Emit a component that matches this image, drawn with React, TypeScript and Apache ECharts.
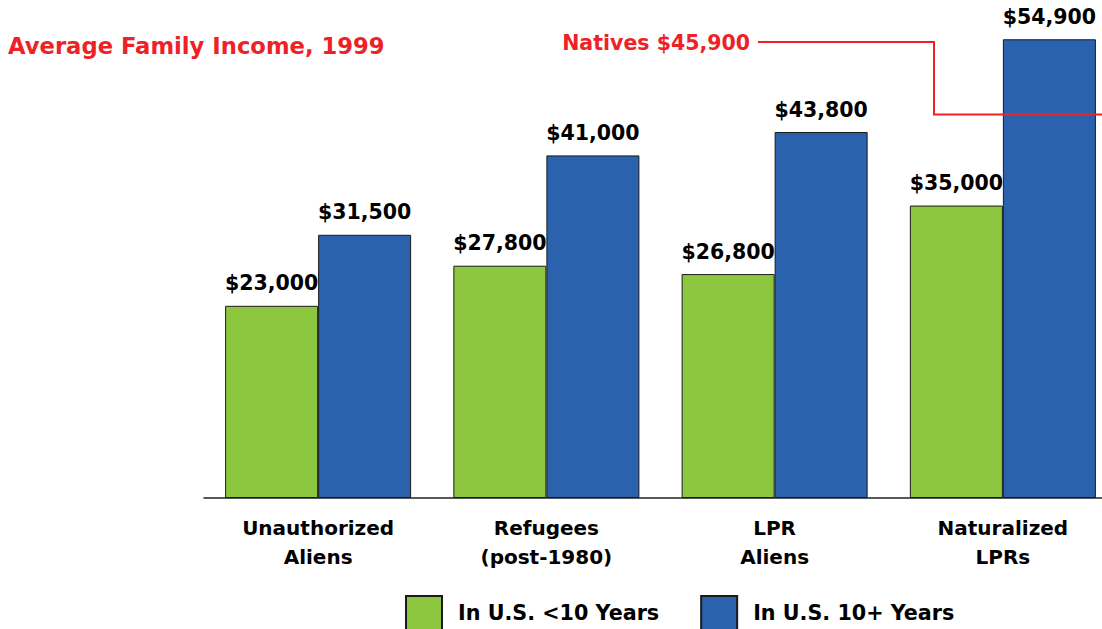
import React, { useEffect, useRef } from "react";
import * as echarts from "echarts";

const categories = ["Unauthorized\nAliens", "Refugees\n(post-1980)", "LPR\nAliens", "Naturalized\nLPRs"];
const under10 = [23000, 27800, 26800, 35000];
const over10 = [31500, 41000, 43800, 54900];
const seriesNames = ["In U.S. <10 Years", "In U.S. 10+ Years"];
const nativesValue = 45900;
const titleText = "Average Family Income, 1999";

const RED = "#ee2226";
const GREEN = "#8dc63f";
const BLUE = "#2a62ad";
const FONT = "'DejaVu Sans', 'Liberation Sans', Arial, sans-serif";

const fmt = (v: number) => "$" + v.toLocaleString("en-US");

export default function App() {
  const ref = useRef<HTMLDivElement>(null);
  useEffect(() => {
    if (!ref.current) return;
    const chart = echarts.init(ref.current, null, { renderer: "svg" });
    const labelStyle = {
      show: true,
      position: "top" as const,
      distance: 12,
      formatter: (p: any) => fmt(p.value),
      fontFamily: FONT,
      fontWeight: "bold",
      fontSize: 20.5,
      color: "#000",
    };
    chart.setOption({
      animation: false,
      backgroundColor: "#fff",
      textStyle: { fontFamily: FONT },
      grid: {
        left: 204,
        top: 0,
        height: 498,
        width: 913,
        containLabel: false,
        outerBoundsMode: "none",
      },
      xAxis: {
        type: "category",
        data: categories,
        axisLine: { show: true, lineStyle: { color: "#222", width: 1.5 } },
        axisTick: { show: false },
        axisLabel: {
          margin: 15,
          fontFamily: FONT,
          fontWeight: "bold",
          fontSize: 20,
          lineHeight: 29,
          color: "#000",
          interval: 0,
        },
      },
      yAxis: { type: "value", min: 0, max: 59600, show: false, splitLine: { show: false } },
      legend: {
        left: 405,
        top: 595,
        padding: 0,
        itemWidth: 36,
        itemHeight: 34,
        itemGap: 41,
        icon: "rect",
        textStyle: {
          fontFamily: FONT,
          fontWeight: "bold",
          fontSize: 20.7,
          color: "#000",
          padding: [0, 0, 0, 11],
        },
        data: seriesNames,
      },
      series: [
        {
          name: seriesNames[0],
          type: "bar",
          data: under10,
          barGap: "0%",
          barCategoryGap: "18.5%",
          itemStyle: { color: GREEN, borderColor: "#1a1a1a", borderWidth: 1 },
          label: labelStyle,
        },
        {
          name: seriesNames[1],
          type: "bar",
          data: over10,
          itemStyle: { color: BLUE, borderColor: "#1a1a1a", borderWidth: 1 },
          label: labelStyle,
        },
      ],
    });
    const yN = chart.convertToPixel({ yAxisIndex: 0 }, nativesValue) as number;
    chart.setOption({
      graphic: [
        {
          type: "text",
          left: 8,
          top: 34,
          style: { text: titleText, fill: RED, font: `bold 22.7px ${FONT}` },
        },
        {
          type: "text",
          x: 750,
          y: 43,
          style: {
            text: "Natives " + fmt(nativesValue),
            fill: RED,
            font: `bold 20.5px ${FONT}`,
            textAlign: "right",
            textVerticalAlign: "middle",
          },
        },
        {
          type: "polyline",
          z: 100,
          shape: { points: [[758, 42], [934, 42], [934, yN], [1102, yN]] },
          style: { stroke: RED, lineWidth: 2, fill: "none" },
        },
      ],
    });
    return () => chart.dispose();
  }, []);
  return <div ref={ref} style={{ width: 1102, height: 629, position: "absolute", left: 0, top: 0 }} />;
}
